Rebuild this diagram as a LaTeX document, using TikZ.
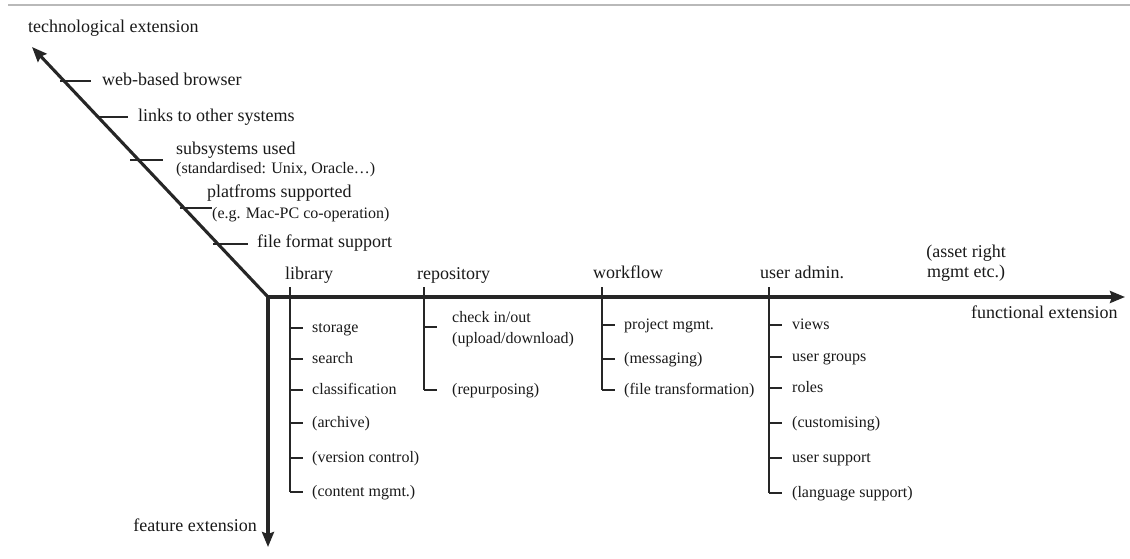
\documentclass[tikz,border=0pt]{standalone}
\usepackage{fontspec}
\setmainfont{Liberation Serif}
\usetikzlibrary{arrows.meta}
\begin{document}
\begin{tikzpicture}[x=1pt,y=-1pt,
  axis/.style={line width=3.1pt, draw=black!85, -{Stealth[length=15pt,width=12pt,inset=2pt]}},
  tick/.style={line width=2.8pt, draw=black!85},
  branch/.style={line width=2.8pt, draw=black!85},
  big/.style={font=\fontsize{18}{21}\selectfont, text=black!90, inner sep=0pt, anchor=west, text height=12.6pt, text depth=3.6pt},
  small/.style={font=\fontsize{16}{19}\selectfont, text=black!90, inner sep=0pt, anchor=west, text height=11.2pt, text depth=3.2pt}]
\useasboundingbox (0,0) rectangle (1130,559);
% top rule
\coordinate (r1) at (8,5);
\coordinate (r2) at (1130,5);
\draw[gray!55, line width=1.2pt] (r1) -- (r2);
% axes
\coordinate (O) at (268,297);
\coordinate (tipT) at (32,47);
\coordinate (tipF) at (1125,297);
\coordinate (tipV) at (268,547);
\draw[axis] (O) -- (tipT);
\draw[axis] (O) -- (tipF);
\draw[axis] (O) -- (tipV);
% axis labels
\node[big] (tech) at (28,28) {technological extension};
\node[big] (func) at (971,314) {functional extension};
\node[big, anchor=east] (feat) at (257,527) {feature extension};
% technological items
\node[big] (web) at (102,81) {web-based browser};
\node[big] (links) at (138,117) {links to other systems};
\node[big] (subs) at (176,150) {subsystems used};
\node[small] (subs2) at (176,170) {(standardised: Unix, Oracle\ldots)};
\node[big] (plat) at (207,193) {platfroms supported};
\node[small] (plat2) at (212,214) {(e.g. Mac-PC co-operation)};
\node[big] (ffs) at (257,243) {file format support};
\coordinate (t1a) at (60,81);  \coordinate (t1b) at (91,81);
\coordinate (t2a) at (97,117); \coordinate (t2b) at (128,117);
\coordinate (t3a) at (130,160);\coordinate (t3b) at (163,160);
\coordinate (t4a) at (180,208);\coordinate (t4b) at (212,208);
\coordinate (t5a) at (213,244);\coordinate (t5b) at (248,244);
\draw[tick] (t1a) -- (t1b);
\draw[tick] (t2a) -- (t2b);
\draw[tick] (t3a) -- (t3b);
\draw[tick] (t4a) -- (t4b);
\draw[tick] (t5a) -- (t5b);
% functional groups
\node[big] (lib) at (285,275) {library};
\node[big] (rep) at (417,275) {repository};
\node[big] (wf) at (593,274) {workflow};
\node[big] (ua) at (760,274) {user admin.};
\node[big, anchor=center, align=center, font=\fontsize{18}{20}\selectfont] (asset) at (966,273) {(asset right\\mgmt etc.)};
% library
\coordinate (libT) at (290,287); \coordinate (libB) at (290,492);
\draw[branch] (libT) -- (libB);
\foreach \y/\t [count=\i] in {328/storage,359/search,390/classification,423/(archive),458/(version control),492/(content mgmt.)}{
  \node[small] (lib\i) at (312,\y) {\t};
  \draw[tick] (libT |- lib\i.west) -- ++(13,0);
}
% repository
\coordinate (repT) at (424,287); \coordinate (repB) at (424,390);
\draw[branch] (repT) -- (repB);
\node[small] (rep1) at (452,318) {check in/out};
\node[small] (rep1b) at (452,339) {(upload/download)};
\node[small] (rep2) at (452,390) {(repurposing)};
\coordinate (rep1t) at (424,327);
\draw[tick] (rep1t) -- ++(13,0);
\draw[tick] (repT |- rep2.west) -- ++(13,0);
% workflow
\coordinate (wfT) at (602,287); \coordinate (wfB) at (602,390);
\draw[branch] (wfT) -- (wfB);
\foreach \y/\t [count=\i] in {325/project mgmt.,359/(messaging),390/(file transformation)}{
  \node[small] (wf\i) at (624,\y) {\t};
  \draw[tick] (wfT |- wf\i.west) -- ++(13,0);
}
% user admin
\coordinate (uaT) at (769,287); \coordinate (uaB) at (769,493);
\draw[branch] (uaT) -- (uaB);
\foreach \y/\t [count=\i] in {325/views,357/user groups,388/roles,423/(customising),458/user support,493/(language support)}{
  \node[small] (ua\i) at (792,\y) {\t};
  \draw[tick] (uaT |- ua\i.west) -- ++(13,0);
}
\end{tikzpicture}
\end{document}
